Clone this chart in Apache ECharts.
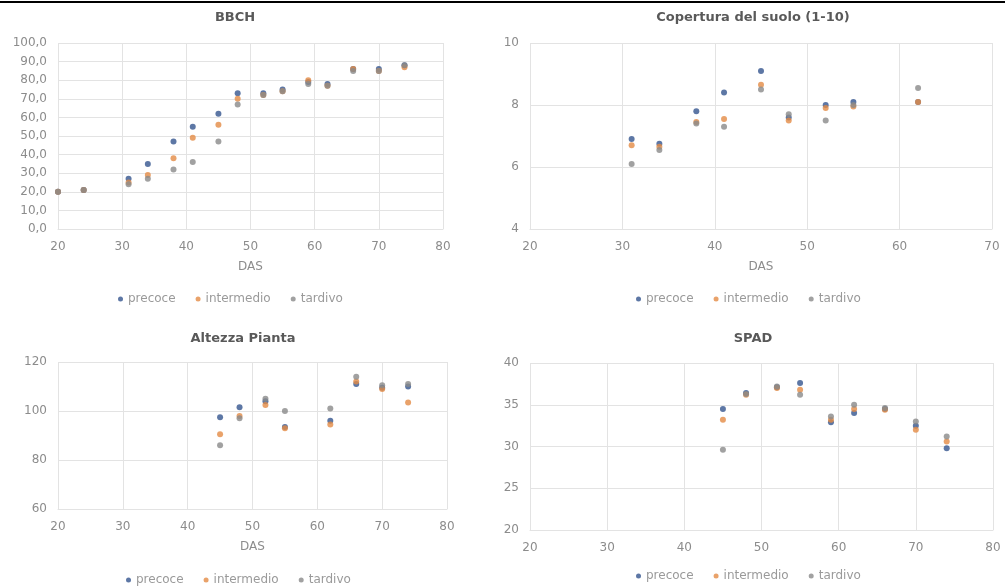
<!DOCTYPE html>
<html><head><meta charset="utf-8">
<script src="https://cdn.jsdelivr.net/npm/echarts@6/dist/echarts.min.js"></script>
<style>html,body{margin:0;padding:0;background:#fff}#c{width:1005px;height:588px}</style>
</head><body><div id="c"></div>
<script>
const seriesNames = ['precoce', 'intermedio', 'tardivo'];
const colors = ['#34558F', '#E38B45', '#8A8A8A'];

const bbchDas = [20, 24, 31, 34, 38, 41, 45, 48, 52, 55, 59, 62, 66, 70, 74];
const bbchPrecoce = [20, 21, 27, 35, 47, 55, 62, 73, 73, 75, 79, 78, 86, 86, 88];
const bbchIntermedio = [20, 21, 25, 29, 38, 49, 56, 70, 72, 74, 80, 77, 86, 85, 87];
const bbchTardivo = [20, 21, 24, 27, 32, 36, 47, 67, 72, 74, 78, 77, 85, 85, 88];

const copDas = [31, 34, 38, 41, 45, 48, 52, 55, 62];
const copPrecoce = [6.9, 6.75, 7.8, 8.4, 9.1, 7.6, 8.0, 8.1, 8.1];
const copIntermedio = [6.7, 6.65, 7.45, 7.55, 8.65, 7.5, 7.9, 7.95, 8.1];
const copTardivo = [6.1, 6.55, 7.4, 7.3, 8.5, 7.7, 7.5, 8.0, 8.55];

const altDas = [45, 48, 52, 55, 62, 66, 70, 74];
const altPrecoce = [97.5, 101.5, 104, 93.5, 96, 111, 109.5, 110];
const altIntermedio = [90.5, 98, 102.5, 93, 94.5, 112, 109, 103.5];
const altTardivo = [86, 97, 105, 100, 101, 114, 110.5, 111];

const spadDas = [45, 48, 52, 55, 59, 62, 66, 70, 74];
const spadPrecoce = [34.5, 36.4, 37.1, 37.6, 32.9, 34.0, 34.5, 32.5, 29.8];
const spadIntermedio = [33.2, 36.2, 37.0, 36.8, 33.2, 34.5, 34.4, 32.0, 30.6];
const spadTardivo = [29.6, 36.3, 37.2, 36.2, 33.6, 35.0, 34.6, 33.0, 31.2];

const titles = ['BBCH', 'Copertura del suolo (1-10)', 'Altezza Pianta', 'SPAD'];
const xName = 'DAS';

const panels = [
  {das: bbchDas, vals: [bbchPrecoce, bbchIntermedio, bbchTardivo], xMin: 20, xMax: 80, xInt: 10, yMin: 0, yMax: 100, yInt: 10, dec: 1, showName: true},
  {das: copDas, vals: [copPrecoce, copIntermedio, copTardivo], xMin: 20, xMax: 70, xInt: 10, yMin: 4, yMax: 10, yInt: 2, dec: 0, showName: true},
  {das: altDas, vals: [altPrecoce, altIntermedio, altTardivo], xMin: 20, xMax: 80, xInt: 10, yMin: 60, yMax: 120, yInt: 20, dec: 0, showName: true},
  {das: spadDas, vals: [spadPrecoce, spadIntermedio, spadTardivo], xMin: 20, xMax: 80, xInt: 10, yMin: 20, yMax: 40, yInt: 5, dec: 0, showName: false}
];

const layout = {
  grids: [
    {left: 58, top: 43, width: 385, height: 186},
    {left: 530, top: 43, width: 462, height: 186},
    {left: 58, top: 362, width: 389, height: 147},
    {left: 530, top: 363, width: 463, height: 167}
  ],
  titleCenters: [[235, 11], [753, 11], [243, 332], [753, 332]],
  legendPos: [[118, 293], [636, 293], [126, 574], [636, 570]]
};

const font = 'DejaVu Sans';
const gridColor = '#E3E3E3';
const labelColor = '#8C8C8C';

const option = {
  animation: false,
  backgroundColor: '#fff',
  graphic: [{type: 'rect', shape: {x: 0, y: 1, width: 1005, height: 2}, style: {fill: '#000'}}],
  title: titles.map((t, i) => ({
    text: t, left: layout.titleCenters[i][0], top: layout.titleCenters[i][1], textAlign: 'center', padding: 0,
    textStyle: {fontFamily: font, fontSize: 13, fontWeight: 'bold', color: '#595959'}
  })),
  legend: layout.legendPos.map((p, i) => ({
    data: seriesNames, left: p[0], top: p[1], padding: 0, itemGap: 20, itemWidth: 5, itemHeight: 5, icon: 'circle',
    textStyle: {fontFamily: font, fontSize: 12, color: '#9A9A9A'}
  })),
  grid: layout.grids.map(g => Object.assign({containLabel: false}, g)),
  xAxis: panels.map((p, i) => ({
    type: 'value', gridIndex: i, min: p.xMin, max: p.xMax, interval: p.xInt,
    name: p.showName ? xName : '', nameLocation: 'middle', nameGap: 32,
    nameTextStyle: {fontFamily: font, fontSize: 12, color: labelColor},
    axisLine: {show: true, lineStyle: {color: gridColor}}, axisTick: {show: false},
    axisLabel: {fontFamily: font, fontSize: 12, color: labelColor, margin: 12},
    splitLine: {show: true, lineStyle: {color: gridColor}}
  })),
  yAxis: panels.map((p, i) => ({
    type: 'value', gridIndex: i, min: p.yMin, max: p.yMax, interval: p.yInt,
    axisLine: {show: false}, axisTick: {show: false},
    axisLabel: {fontFamily: font, fontSize: 12, color: labelColor, margin: 11,
      formatter: v => p.dec ? v.toFixed(p.dec).replace('.', ',') : String(v)},
    splitLine: {show: true, lineStyle: {color: gridColor}}
  })),
  series: []
};

panels.forEach((p, i) => {
  seriesNames.forEach((n, k) => {
    option.series.push({
      type: 'scatter', name: n, xAxisIndex: i, yAxisIndex: i, symbol: 'circle', symbolSize: 6,
      itemStyle: {color: colors[k]},
      data: p.das.map((d, j) => [d, p.vals[k][j]])
    });
  });
});

const chart = echarts.init(document.getElementById('c'), null, {renderer: 'canvas'});
chart.setOption(option);
</script></body></html>
